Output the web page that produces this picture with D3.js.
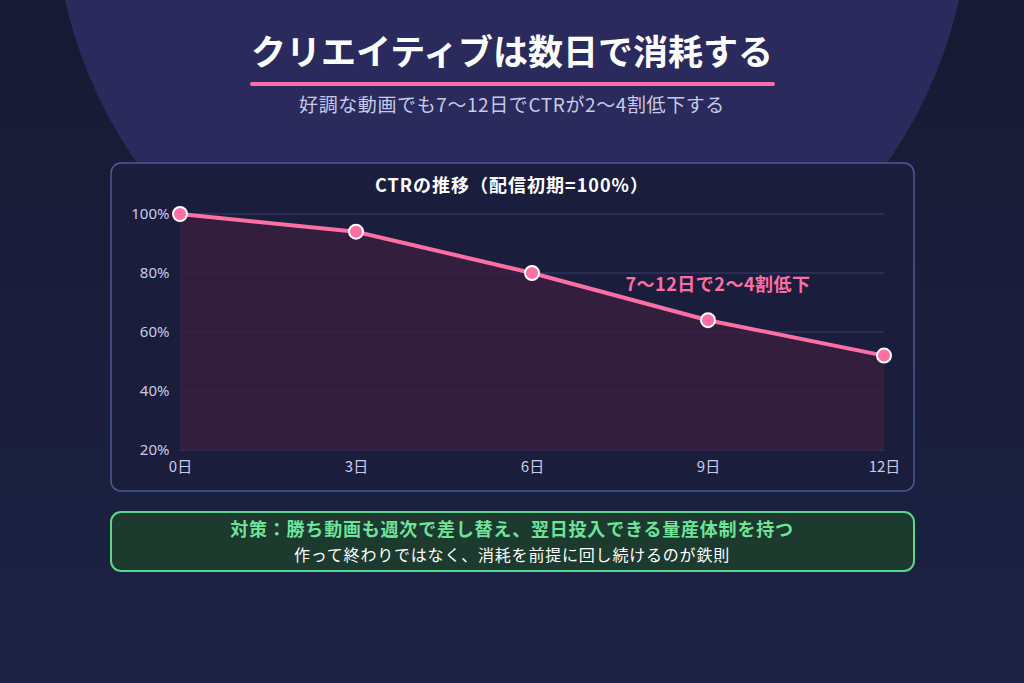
<!DOCTYPE html>
<html lang="ja">
<head>
<meta charset="UTF-8">
<script src="https://d3js.org/d3.v7.min.js"></script>
<style>
  body { margin: 0; background: #1b1e3b; }
  text { font-family: "Noto Sans CJK JP", "Noto Sans", sans-serif; }
</style>
</head>
<body>
<div id="chart"></div>
<script>
const width = 1024, height = 683;

const days = ["0日", "3日", "6日", "9日", "12日"];
const ctr = [100, 94, 80, 64, 52];
const yTicks = [20, 40, 60, 80, 100];

const svg = d3.select("#chart").append("svg")
  .attr("width", width).attr("height", height);

const grad = svg.append("defs").append("linearGradient")
  .attr("id", "bg").attr("x1", 0).attr("y1", 0).attr("x2", 0).attr("y2", 1);
grad.append("stop").attr("offset", "0%").attr("stop-color", "#181a33");
grad.append("stop").attr("offset", "100%").attr("stop-color", "#1d2244");
svg.append("rect").attr("width", width).attr("height", height).attr("fill", "url(#bg)");

// big halo circle behind the title
svg.append("circle").attr("cx", 512).attr("cy", -100).attr("r", 458).attr("fill", "#2a2a5c");

// title
svg.append("text").attr("x", 512).attr("y", 65).attr("text-anchor", "middle")
  .attr("font-size", 35).attr("font-weight", 700).attr("fill", "#ffffff")
  .text("クリエイティブは数日で消耗する");
svg.append("rect").attr("x", 250).attr("y", 82).attr("width", 525).attr("height", 4)
  .attr("rx", 2).attr("fill", "#ff6fa3");
svg.append("text").attr("x", 512).attr("y", 112).attr("text-anchor", "middle")
  .attr("font-size", 19).attr("letter-spacing", 0.6).attr("fill", "#c9cbe6")
  .text("好調な動画でも7〜12日でCTRが2〜4割低下する");

// chart card
svg.append("rect").attr("x", 111).attr("y", 163).attr("width", 803).attr("height", 328)
  .attr("rx", 10).attr("fill", "#1a1d3c").attr("stroke", "#4b5a9a").attr("stroke-width", 1.5);
svg.append("text").attr("x", 512).attr("y", 192).attr("text-anchor", "middle")
  .attr("font-size", 18).attr("letter-spacing", 1).attr("font-weight", 700).attr("fill", "#ffffff")
  .text("CTRの推移（配信初期=100%）");

const x = d3.scalePoint().domain(days).range([180, 884]);
const y = d3.scaleLinear().domain([20, 100]).range([450, 214]);

const grid = svg.append("g");
grid.selectAll("line").data(yTicks).join("line")
  .attr("x1", 180).attr("x2", 884)
  .attr("y1", d => y(d)).attr("y2", d => y(d))
  .attr("stroke", "#3a3e66").attr("stroke-width", 1);

const yAxis = svg.append("g").attr("transform", "translate(168,0)")
  .call(d3.axisLeft(y).tickValues(yTicks).tickFormat(d => d + "%").tickSize(0));
yAxis.select(".domain").remove();
yAxis.selectAll("text").attr("font-size", 15).attr("fill", "#c9cbe6").attr("dx", "0.3em")
  .style("font-family", '"Noto Sans", sans-serif');

const xAxis = svg.append("g").attr("transform", "translate(0,458)")
  .call(d3.axisBottom(x).tickSize(0));
xAxis.select(".domain").remove();
xAxis.selectAll("text").attr("font-size", 15).attr("fill", "#c9cbe6")
  .style("font-family", '"Noto Sans CJK JP", sans-serif');

const pts = days.map((d, i) => ({ d, v: ctr[i] }));

svg.append("path").datum(pts)
  .attr("d", d3.area().x(p => x(p.d)).y0(y(20)).y1(p => y(p.v)))
  .attr("fill", "#3a1f3e").attr("opacity", 0.85);

svg.append("path").datum(pts)
  .attr("d", d3.line().x(p => x(p.d)).y(p => y(p.v)))
  .attr("fill", "none").attr("stroke", "#ff6fa3").attr("stroke-width", 4);

svg.selectAll("circle.pt").data(pts).join("circle").attr("class", "pt")
  .attr("cx", p => x(p.d)).attr("cy", p => y(p.v)).attr("r", 7)
  .attr("fill", "#ff6fa3").attr("stroke", "#ffffff").attr("stroke-width", 2);

svg.append("text").attr("x", 718).attr("y", 291).attr("text-anchor", "middle")
  .attr("font-size", 18).attr("letter-spacing", 0.5).attr("font-weight", 700).attr("fill", "#ff6fa3")
  .text("7〜12日で2〜4割低下");

// bottom note box
svg.append("rect").attr("x", 111).attr("y", 512).attr("width", 803).attr("height", 59)
  .attr("rx", 10).attr("fill", "#1c3a2e").attr("stroke", "#5ed68a").attr("stroke-width", 2);
svg.append("text").attr("x", 512).attr("y", 536).attr("text-anchor", "middle")
  .attr("font-size", 18).attr("letter-spacing", 0.8).attr("font-weight", 700).attr("fill", "#6fe39a")
  .text("対策：勝ち動画も週次で差し替え、翌日投入できる量産体制を持つ");
svg.append("text").attr("x", 512).attr("y", 561).attr("text-anchor", "middle")
  .attr("font-size", 16).attr("letter-spacing", 0.8).attr("fill", "#ffffff")
  .text("作って終わりではなく、消耗を前提に回し続けるのが鉄則");
</script>
</body>
</html>
